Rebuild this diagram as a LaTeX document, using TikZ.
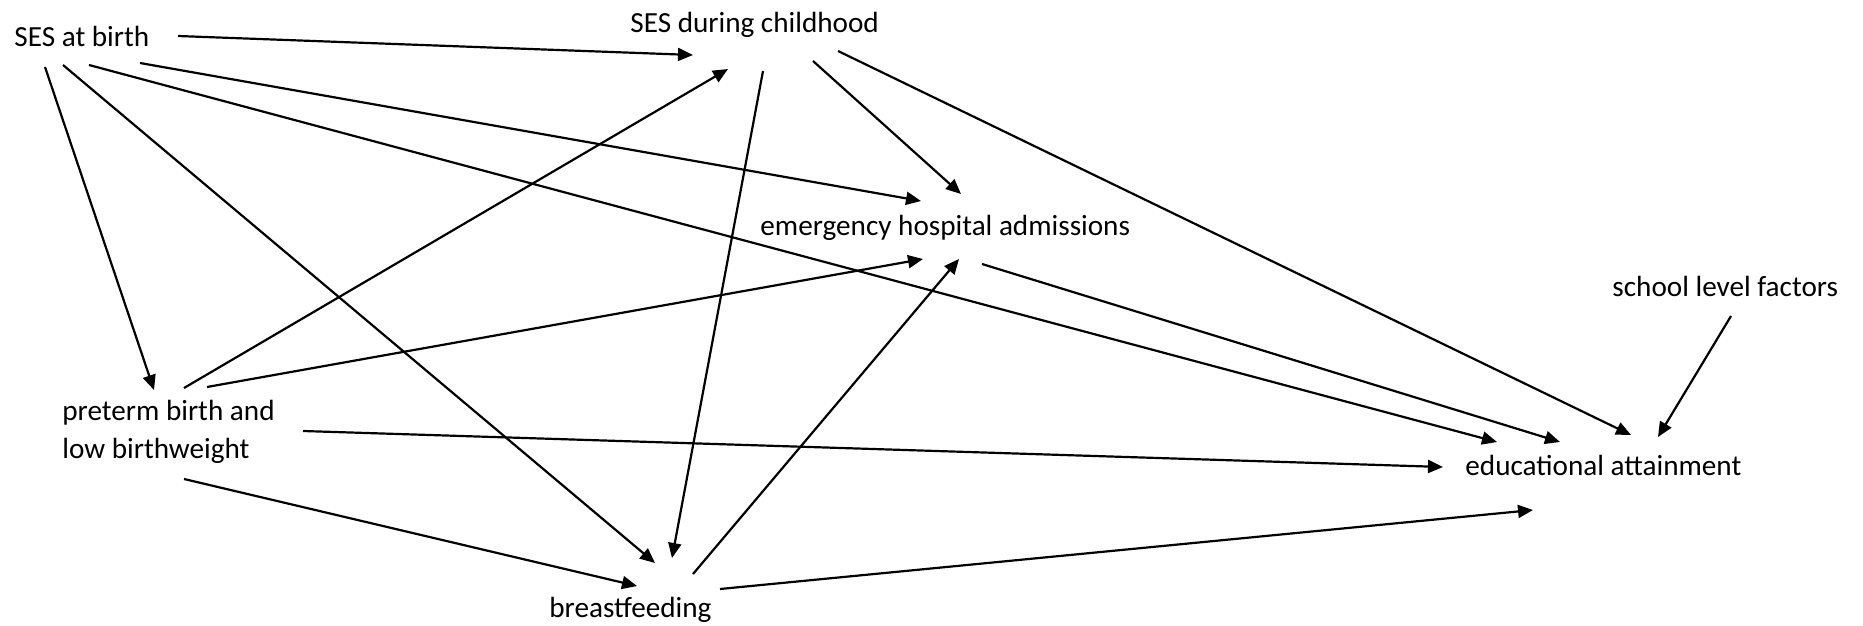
\documentclass[tikz,border=0pt]{standalone}
\usepackage{fontspec}
\setmainfont{Carlito}
\usetikzlibrary{arrows.meta}
\begin{document}
\begin{tikzpicture}[x=0.5pt,y=-0.5pt,
  var/.style={anchor=west,inner sep=0pt,font=\fontsize{14.6}{19}\selectfont,align=left},
  link/.style={line width=1.1pt,-{Triangle[length=7.5pt,width=6.5pt]}}]
\useasboundingbox (0,0) rectangle (1863,626);
% variables
\node[var] (sesb)    at (14,36)     {SES at birth};
\node[var] (sesc)    at (630,24.5)  {SES during childhood};
\node[var] (emerg)   at (760,227.5) {emergency hospital admissions};
\node[var] (school)  at (1612,286)  {school level factors};
\node[var] (preterm) at (62,431.5)  {preterm birth and\\low birthweight};
\node[var] (edu)     at (1465,465)  {educational attainment};
\node[var] (breast)  at (549,609.5) {breastfeeding};
% causal paths
\draw[link] ([shift={(164,0)}]sesb.west)   -- ([shift={(63,30.5)}]sesc.west);
\draw[link] ([shift={(31,31)}]sesb.west)    -- ([shift={(92,-41.5)}]preterm.west);
\draw[link] ([shift={(49,29)}]sesb.west)    -- ([shift={(106,-46.5)}]breast.west);
\draw[link] ([shift={(75,29)}]sesb.west)    -- ([shift={(32,-23)}]edu.west);
\draw[link] ([shift={(126,27)}]sesb.west)   -- ([shift={(161,-26.5)}]emerg.west);
\draw[link] ([shift={(122,-43.5)}]preterm.west) -- ([shift={(98,44.5)}]sesc.west);
\draw[link] ([shift={(145,-44.5)}]preterm.west) -- ([shift={(163,31.5)}]emerg.west);
\draw[link] ([shift={(241,-0.5)}]preterm.west)  -- ([shift={(-22,2)}]edu.west);
\draw[link] ([shift={(122,47.5)}]preterm.west)  -- ([shift={(88,-23.5)}]breast.west);
\draw[link] ([shift={(133,46.5)}]sesc.west)  -- ([shift={(123,-51.5)}]breast.west);
\draw[link] ([shift={(183,36.5)}]sesc.west)  -- ([shift={(201,-33.5)}]emerg.west);
\draw[link] ([shift={(208,26.5)}]sesc.west)  -- ([shift={(166,-30)}]edu.west);
\draw[link] ([shift={(144,-35.5)}]breast.west) -- ([shift={(199,31.5)}]emerg.west);
\draw[link] ([shift={(171,-20.5)}]breast.west) -- ([shift={(68,45)}]edu.west);
\draw[link] ([shift={(222,36.5)}]emerg.west) -- ([shift={(95,-23)}]edu.west);
\draw[link] ([shift={(119,30)}]school.west) -- ([shift={(193,-28)}]edu.west);
\end{tikzpicture}
\end{document}
